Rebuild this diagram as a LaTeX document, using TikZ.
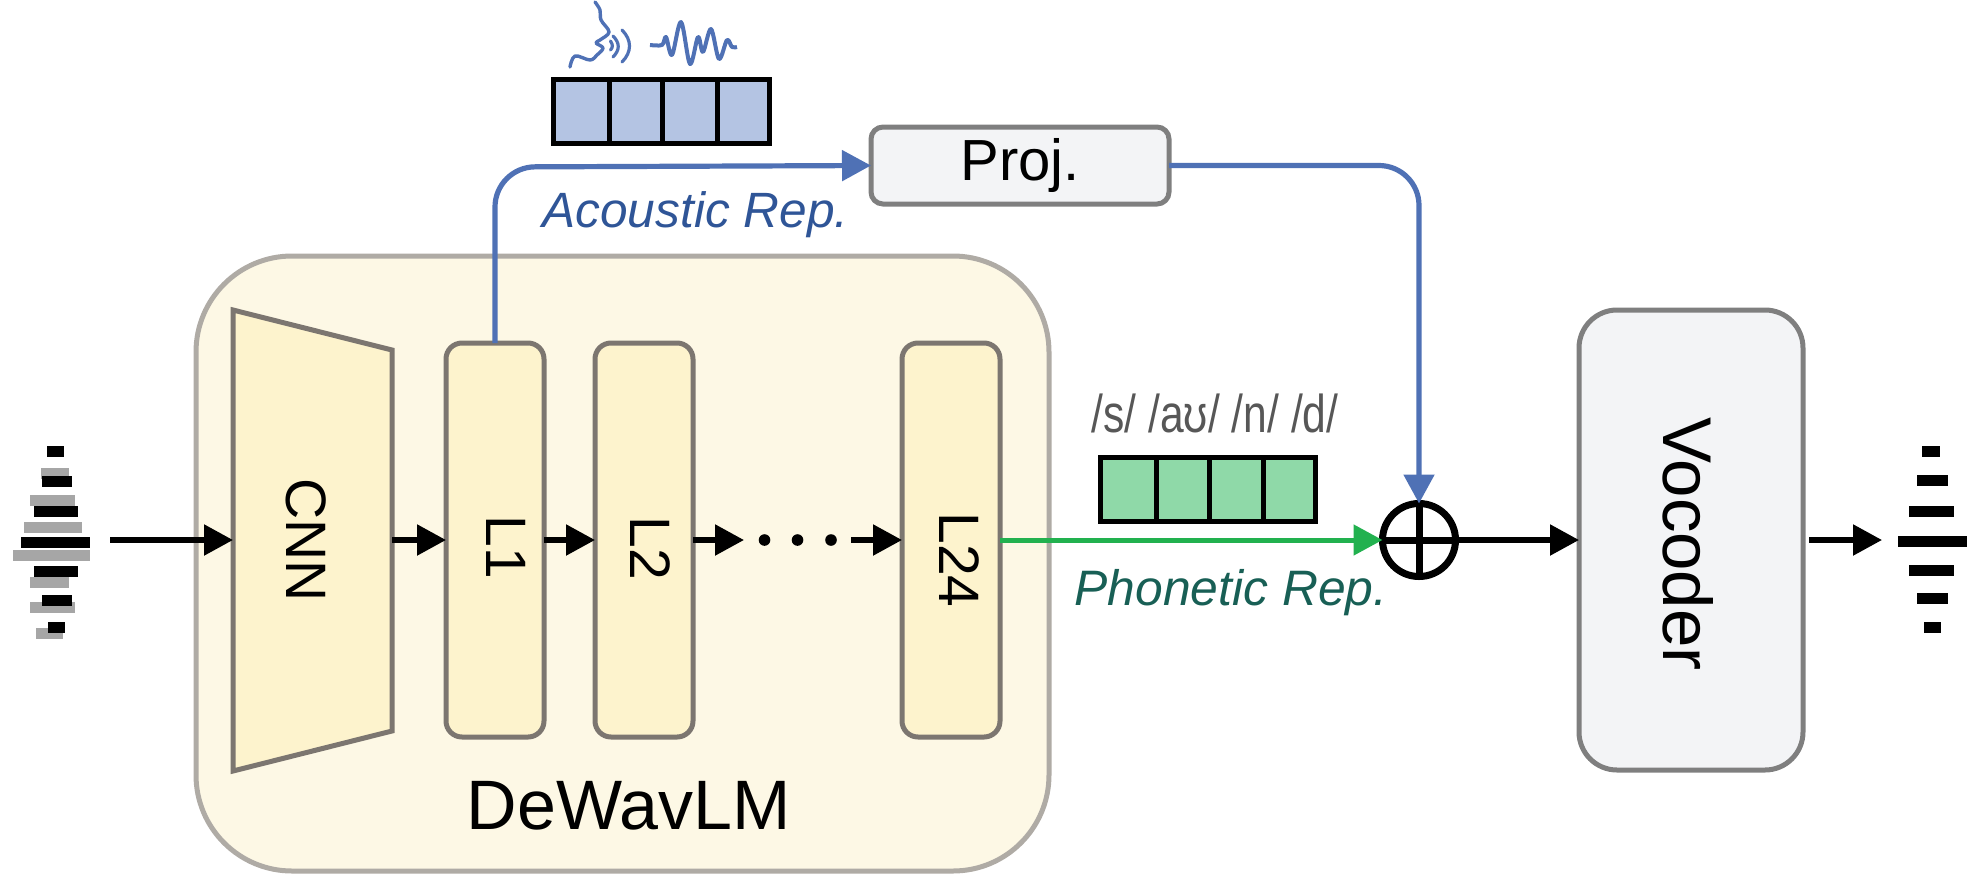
\documentclass[tikz,border=0pt]{standalone}
\usepackage{fontspec}
\setmainfont{Liberation Sans}
\usetikzlibrary{arrows.meta}
\definecolor{lmbox}{HTML}{FDF8E5}
\definecolor{lmedge}{HTML}{AFABA5}
\definecolor{layerfill}{HTML}{FDF3CD}
\definecolor{layeredge}{HTML}{7C7670}
\definecolor{greyfill}{HTML}{F3F4F6}
\definecolor{greyedge}{HTML}{7F7F7F}
\definecolor{acoblue}{HTML}{4F71B5}
\definecolor{acotext}{HTML}{2F5597}
\definecolor{acofill}{HTML}{B4C4E3}
\definecolor{phongreen}{HTML}{22B14F}
\definecolor{phontext}{HTML}{185F55}
\definecolor{phonfill}{HTML}{8FD9A8}
\definecolor{wavegrey}{HTML}{A6A6A6}
\tikzset{
	layer/.style = {draw=layeredge, fill=layerfill, line width=2.5pt, rounded corners=8pt, minimum width=49pt, minimum height=197pt, outer sep=0pt},
	layername/.style = {rotate=-90, inner sep=0pt, font=\fontsize{28.5}{28.5}\selectfont},
	greybox/.style = {draw=greyedge, fill=greyfill, line width=2.5pt, outer sep=0pt},
	repcell/.style = {draw=black, line width=2.5pt, minimum height=32pt, outer sep=0pt, inner sep=0pt},
	blk/.style = {line width=2.7pt, -{Triangle[length=14.5pt, width=15pt]}},
	aco/.style = {draw=acoblue, line width=2.6pt, rounded corners=20pt},
	acotip/.style = {-{Triangle[length=14.5pt, width=15pt, color=acoblue]}},
}
\begin{document}
\begin{tikzpicture}[x=0.5pt, y=-0.5pt]
	\useasboundingbox (0,0) rectangle (1976,879);
	% encoder frame
	\node[draw=lmedge, fill=lmbox, line width=2.5pt, rounded corners=48pt, minimum width=426.5pt, minimum height=307.5pt, outer sep=0pt] (lm) at (622.5,563.5) {};
	\node[font=\fontsize{35}{35}\selectfont] (lmname) at (629,806) {DeWavLM};
	\draw[draw=layeredge, fill=layerfill, line width=2.5pt, line join=miter] (233,310) -- (392,350) -- (392,731) -- (233,771) -- cycle;
	\coordinate (cnnin) at (233,540);
	\coordinate (cnnout) at (392,540);
	\node[layername] (cnn) at (306.5,540) {CNN};
	\node[layer] (l1) at (495,540) {};
	\node[layer] (l2) at (644,540) {};
	\node[layer] (l24) at (951,540) {};
	\node[layername] (l1name) at (506,547) {L1};
	\node[layername] (l2name) at (650.5,548) {L2};
	\node[layername] (l24name) at (959,560) {L24};
	% other blocks
	\node[greybox, rounded corners=6pt, minimum width=149pt, minimum height=38.5pt, font=\fontsize{29}{29}\selectfont] (proj) at (1020,165.5) {Proj.};
	\node[greybox, rounded corners=19pt, minimum width=112pt, minimum height=230pt] (voc) at (1691,540) {};
	\node[rotate=-90, inner sep=0pt, font=\fontsize{34.5}{34.5}\selectfont] (vocname) at (1688,544) {Vocoder};
	\node[circle, draw=black, line width=3.5pt, minimum size=36.5pt, inner sep=0pt, outer sep=0pt] (add) at (1419,540) {};
	\draw[line width=3.5pt] (add.north) -- (add.south) (add.west) -- (add.east);
	% feature vectors
	\foreach \name/\xa/\xb in {a/553.5/609, b/609/662, c/662/717, d/717/769.5}
		\node[repcell, fill=acofill, minimum width={(\xb-\xa)/2*1pt}] (aco\name) at ({(\xa+\xb)/2},111.5) {};
	\foreach \name/\xa/\xb in {a/1100.5/1156, b/1156/1209, c/1209/1263, d/1263/1315.5}
		\node[repcell, fill=phonfill, minimum width={(\xb-\xa)/2*1pt}] (phon\name) at ({(\xa+\xb)/2},489.5) {};
	% labels
	\node[text=acotext, font=\fontsize{24.8}{24.8}\selectfont\itshape] (acolabel) at (695.5,215) {Acoustic Rep.};
	\node[text=phontext, font=\fontsize{24.9}{24.9}\selectfont\itshape] (phonlabel) at (1231,593) {Phonetic Rep.};
	\node[text=black!66, font=\fontsize{21.3}{21.3}\selectfont] (phonemes) at (1215,413) {\scalebox{1}[1.25]{/s/ /aʊ/ /n/ /d/}};
	% connectors
	\coordinate (wavein) at (110,540);
	\coordinate (waveout) at (1809,540);
	\coordinate (audioend) at (1882,540);
	\coordinate (dotsa) at (744,540);
	\coordinate (dotsb) at (851,540);
	\draw[blk] (wavein) -- (cnnin);
	\draw[blk] (cnnout) -- (l1);
	\draw[blk] (l1) -- (l2);
	\draw[blk] (l2) -- (dotsa);
	\draw[blk] (dotsb) -- (l24);
	\foreach \x in {764.5,797.5,831}
		\fill (\x,540) circle (2.9pt);
	\draw[blk] (add) -- (voc);
	\draw[blk] (waveout) -- (audioend);
	\draw[line width=2.5pt, draw=phongreen, -{Triangle[length=14.5pt, width=15pt, color=phongreen]}] (l24) -- (add);
	\draw[aco, acotip] (l1.north -| 495,0) -- (495,167) -- (proj.west);
	\draw[aco, acotip] (proj.east) -- (add.north |- proj.east) -- (add.north);
	% input and output waveform bars
	\foreach \xa/\xb/\ya/\yb in {41/69/468/479, 30/75/495/506, 24/82/522/533, 13/90/550/561, 30/69/577/588, 30/75/602/613, 36/63/628/639}
		\fill[wavegrey] (\xa,\ya) rectangle (\xb,\yb);
	\foreach \xa/\xb/\ya/\yb in {47/64/446/457, 42/72/476/487, 34/78/506/517, 21/90/537/548, 34/78/566/577, 42/72/595/606, 48/65/622/633}
		\fill (\xa,\ya) rectangle (\xb,\yb);
	\foreach \xa/\xb/\ya/\yb in {1922/1940/446/457, 1917/1948/475/486, 1909/1954/506/517, 1898/1967/536/547, 1909/1954/565/576, 1917/1948/593/604, 1924/1941/622/633}
		\fill (\xa,\ya) rectangle (\xb,\yb);
	% speaker and sound icons
	\draw[acoblue, line width=1.7pt, line cap=round, line join=round] plot[smooth, tension=0.6] coordinates {(595,2) (600,10) (601,20) (609,32) (600,40) (596,43) (603,48) (597,55) (590,60) (575,56) (570,67)};
	\draw[acoblue, line width=1.6pt, line cap=round] (610.5,41) .. controls (613,45) and (613,47) .. (610.5,50);
	\draw[acoblue, line width=1.6pt, line cap=round] (613,36) .. controls (620,43) and (620,50) .. (613,57);
	\draw[acoblue, line width=1.6pt, line cap=round] (622,30) .. controls (632,40) and (632,52) .. (622,62);
	\draw[acoblue, line width=2pt, line join=round] plot[smooth, tension=0.55] coordinates {(650,45) (662,45) (666,37) (672,55) (681,22) (690,64) (698,37) (703,52) (711,29) (719,59) (727,40) (732,47) (737,47)};
\end{tikzpicture}
\end{document}
